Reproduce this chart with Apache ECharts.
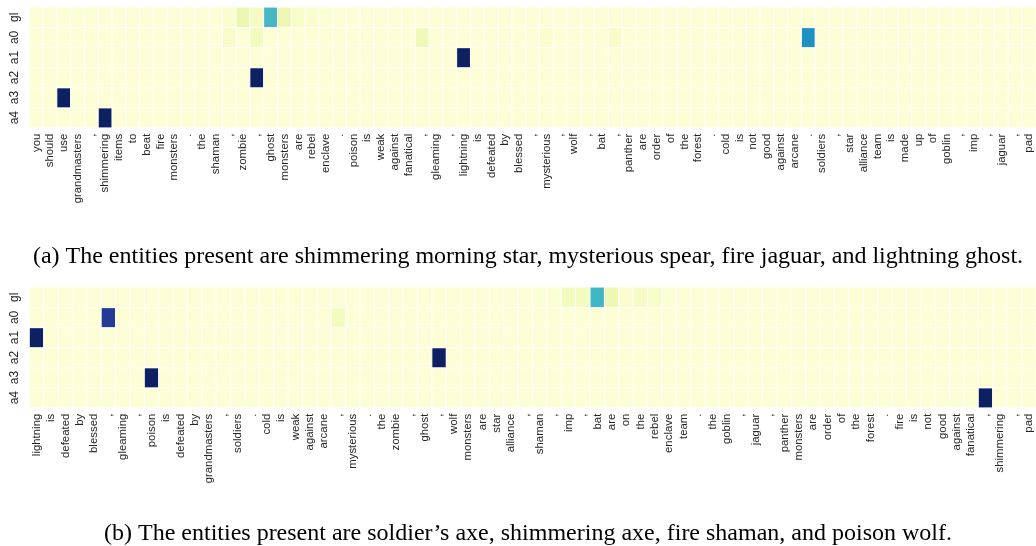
<!DOCTYPE html>
<html>
<head>
<meta charset="utf-8">
<script src="https://cdn.jsdelivr.net/npm/echarts@6/dist/echarts.min.js"></script>
<style>
html,body{margin:0;padding:0;background:#fff;}
#chart{width:1036px;height:546px;}
</style>
</head>
<body>
<div id="chart"></div>
<script>
// Row labels (bottom to top)
const rowLabels = ["a4", "a3", "a2", "a1", "a0", "gl"];

// ---- Panel (a) ----
const tokensA = ["you","should","use","grandmasters",",","shimmering","items","to","beat","fire",
"monsters",".","the","shaman",",","zombie",",","ghost","monsters","are",
"rebel","enclave",".","poison","is","weak","against","fanatical",",","gleaming",
",","lightning","is","defeated","by","blessed",",","mysterious",",","wolf",
",","bat",",","panther","are","order","of","the","forest",".",
"cold","is","not","good","against","arcane",".","soldiers",",","star",
"alliance","team","is","made","up","of","goblin",",","imp",",",
"jaguar",",","pad"];

const glA = [
0.01,0.01,0.01,0.02,0.02,0.01,0.01,0.01,0.01,0.01,
0.01,0.01,0.01,0.01,0.03,0.13,0.07,0.49,0.12,0.05,
0.03,0.02,0.01,0.01,0.01,0.01,0.01,0.01,0.01,0.01,
0.01,0.01,0.01,0.01,0.01,0.01,0.01,0.01,0.01,0.01,
0.01,0.01,0.01,0.01,0.01,0.01,0.01,0.01,0.01,0.01,
0.01,0.01,0.01,0.01,0.01,0.01,0.01,0.01,0.01,0.01,
0.01,0.01,0.01,0.01,0.01,0.01,0.01,0.01,0.01,0.01,
0.01,0.01,0.01];
const a0A = [
0.01,0.01,0.01,0.01,0.02,0.01,0.01,0.01,0.01,0.01,
0.01,0.01,0.01,0.01,0.05,0.01,0.09,0.01,0.01,0.01,
0.01,0.01,0.01,0.01,0.01,0.01,0.01,0.01,0.10,0.01,
0.01,0.01,0.01,0.01,0.01,0.01,0.01,0.03,0.01,0.01,
0.01,0.01,0.05,0.01,0.01,0.01,0.01,0.01,0.01,0.01,
0.01,0.01,0.01,0.01,0.01,0.01,0.62,0.01,0.01,0.01,
0.01,0.01,0.01,0.01,0.01,0.01,0.01,0.01,0.01,0.01,
0.01,0.01,0.01];
const a1A = [
0.01,0.01,0.01,0.01,0.01,0.01,0.01,0.01,0.01,0.01,
0.01,0.01,0.01,0.01,0.01,0.01,0.01,0.01,0.01,0.01,
0.01,0.01,0.01,0.01,0.01,0.01,0.01,0.01,0.01,0.01,
0.01,0.98,0.01,0.01,0.01,0.01,0.01,0.01,0.01,0.01,
0.01,0.01,0.01,0.01,0.01,0.01,0.01,0.01,0.01,0.01,
0.01,0.01,0.01,0.01,0.01,0.01,0.01,0.01,0.01,0.01,
0.01,0.01,0.01,0.01,0.01,0.01,0.01,0.01,0.01,0.01,
0.01,0.01,0.01];
const a2A = [
0.01,0.01,0.01,0.01,0.01,0.01,0.01,0.01,0.01,0.01,
0.01,0.01,0.01,0.01,0.01,0.01,0.98,0.01,0.01,0.01,
0.01,0.01,0.01,0.01,0.01,0.01,0.01,0.01,0.01,0.01,
0.01,0.01,0.01,0.01,0.01,0.01,0.01,0.01,0.01,0.01,
0.01,0.01,0.01,0.01,0.01,0.01,0.01,0.01,0.01,0.01,
0.01,0.01,0.01,0.01,0.01,0.01,0.01,0.01,0.01,0.01,
0.01,0.01,0.01,0.01,0.01,0.01,0.01,0.01,0.01,0.01,
0.01,0.01,0.01];
const a3A = [
0.01,0.01,0.98,0.01,0.01,0.01,0.01,0.01,0.01,0.01,
0.01,0.01,0.01,0.01,0.01,0.01,0.01,0.01,0.01,0.01,
0.01,0.01,0.01,0.01,0.01,0.01,0.01,0.01,0.01,0.01,
0.01,0.01,0.01,0.01,0.01,0.01,0.01,0.01,0.01,0.01,
0.01,0.01,0.01,0.01,0.01,0.01,0.01,0.01,0.01,0.01,
0.01,0.01,0.01,0.01,0.01,0.01,0.01,0.01,0.01,0.01,
0.01,0.01,0.01,0.01,0.01,0.01,0.01,0.01,0.01,0.01,
0.01,0.01,0.01];
const a4A = [
0.01,0.01,0.01,0.01,0.01,0.98,0.01,0.01,0.01,0.01,
0.01,0.01,0.01,0.01,0.01,0.01,0.01,0.01,0.01,0.01,
0.01,0.01,0.01,0.01,0.01,0.01,0.01,0.01,0.01,0.01,
0.01,0.01,0.01,0.01,0.01,0.01,0.01,0.01,0.01,0.01,
0.01,0.01,0.01,0.01,0.01,0.01,0.01,0.01,0.01,0.01,
0.01,0.01,0.01,0.01,0.01,0.01,0.01,0.01,0.01,0.01,
0.01,0.01,0.01,0.01,0.01,0.01,0.01,0.01,0.01,0.01,
0.01,0.01,0.01];

// ---- Panel (b) ----
const tokensB = ["lightning","is","defeated","by","blessed",",","gleaming",",","poison","is",
"defeated","by","grandmasters",",","soldiers",".","cold","is","weak","against",
"arcane",",","mysterious",".","the","zombie",",","ghost",",","wolf",
"monsters","are","star","alliance",",","shaman",",","imp",",","bat",
"are","on","the","rebel","enclave","team",".","the","goblin",",",
"jaguar",",","panther","monsters","are","order","of","the","forest",".",
"fire","is","not","good","against","fanatical",",","shimmering",",","pad"];

const glB = [
0.01,0.01,0.01,0.01,0.01,0.01,0.01,0.01,0.01,0.01,
0.01,0.01,0.01,0.01,0.01,0.01,0.01,0.01,0.01,0.01,
0.01,0.01,0.01,0.01,0.01,0.01,0.01,0.01,0.01,0.01,
0.01,0.01,0.01,0.01,0.01,0.02,0.02,0.08,0.08,0.50,
0.12,0.03,0.07,0.05,0.02,0.01,0.01,0.01,0.01,0.01,
0.01,0.01,0.01,0.01,0.01,0.01,0.01,0.01,0.01,0.01,
0.01,0.01,0.01,0.01,0.01,0.01,0.01,0.01,0.01,0.01];
const a0B = [
0.01,0.01,0.01,0.01,0.01,0.86,0.01,0.01,0.01,0.01,
0.01,0.01,0.01,0.01,0.01,0.01,0.01,0.01,0.01,0.01,
0.01,0.08,0.01,0.01,0.01,0.01,0.01,0.01,0.01,0.01,
0.01,0.01,0.01,0.01,0.01,0.01,0.01,0.01,0.01,0.01,
0.01,0.01,0.01,0.01,0.01,0.01,0.01,0.01,0.01,0.01,
0.01,0.01,0.01,0.01,0.01,0.01,0.01,0.01,0.01,0.01,
0.01,0.01,0.01,0.01,0.01,0.01,0.01,0.01,0.01,0.01];
const a1B = [
0.98,0.01,0.01,0.01,0.01,0.01,0.01,0.01,0.01,0.01,
0.01,0.01,0.01,0.01,0.01,0.01,0.01,0.01,0.01,0.01,
0.01,0.01,0.01,0.01,0.01,0.01,0.01,0.01,0.01,0.01,
0.01,0.01,0.01,0.01,0.01,0.01,0.01,0.01,0.01,0.01,
0.01,0.01,0.01,0.01,0.01,0.01,0.01,0.01,0.01,0.01,
0.01,0.01,0.01,0.01,0.01,0.01,0.01,0.01,0.01,0.01,
0.01,0.01,0.01,0.01,0.01,0.01,0.01,0.01,0.01,0.01];
const a2B = [
0.01,0.01,0.01,0.01,0.01,0.01,0.01,0.01,0.01,0.01,
0.01,0.01,0.01,0.01,0.01,0.01,0.01,0.01,0.01,0.01,
0.01,0.01,0.01,0.01,0.01,0.01,0.01,0.01,0.98,0.01,
0.01,0.01,0.01,0.01,0.01,0.01,0.01,0.01,0.01,0.01,
0.01,0.01,0.01,0.01,0.01,0.01,0.01,0.01,0.01,0.01,
0.01,0.01,0.01,0.01,0.01,0.01,0.01,0.01,0.01,0.01,
0.01,0.01,0.01,0.01,0.01,0.01,0.01,0.01,0.01,0.01];
const a3B = [
0.01,0.01,0.01,0.01,0.01,0.01,0.01,0.01,0.98,0.01,
0.01,0.01,0.01,0.01,0.01,0.01,0.01,0.01,0.01,0.01,
0.01,0.01,0.01,0.01,0.01,0.01,0.01,0.01,0.01,0.01,
0.01,0.01,0.01,0.01,0.01,0.01,0.01,0.01,0.01,0.01,
0.01,0.01,0.01,0.01,0.01,0.01,0.01,0.01,0.01,0.01,
0.01,0.01,0.01,0.01,0.01,0.01,0.01,0.01,0.01,0.01,
0.01,0.01,0.01,0.01,0.01,0.01,0.01,0.01,0.01,0.01];
const a4B = [
0.01,0.01,0.01,0.01,0.01,0.01,0.01,0.01,0.01,0.01,
0.01,0.01,0.01,0.01,0.01,0.01,0.01,0.01,0.01,0.01,
0.01,0.01,0.01,0.01,0.01,0.01,0.01,0.01,0.01,0.01,
0.01,0.01,0.01,0.01,0.01,0.01,0.01,0.01,0.01,0.01,
0.01,0.01,0.01,0.01,0.01,0.01,0.01,0.01,0.01,0.01,
0.01,0.01,0.01,0.01,0.01,0.01,0.01,0.01,0.01,0.01,
0.01,0.01,0.01,0.01,0.01,0.01,0.98,0.01,0.01,0.01];

const captionA = "(a) The entities present are shimmering morning star, mysterious spear, fire jaguar, and lightning ghost.";
const captionB = "(b) The entities present are soldier\u2019s axe, shimmering axe, fire shaman, and poison wolf.";

const YlGnBu = ['#ffffd9','#edf8b1','#c7e9b4','#7fcdbb','#41b6c4','#1d91c0','#225ea8','#253494','#081d58'];

function toCells(rows) {
  const out = [];
  rows.forEach((row, yi) => row.forEach((v, xi) => out.push([xi, yi, v])));
  return out;
}
const cellsA = toCells([a4A, a3A, a2A, a1A, a0A, glA]);
const cellsB = toCells([a4B, a3B, a2B, a1B, a0B, glB]);

const labelFont = 'Liberation Sans, Arial, sans-serif';
function xAxisFor(idx, tokens) {
  return {
    type: 'category', gridIndex: idx, data: tokens,
    axisLine: {show: false}, axisTick: {show: false}, splitLine: {show: false},
    axisLabel: {interval: 0, rotate: 90, fontSize: 11.4, color: '#262626', fontFamily: labelFont, margin: 6}
  };
}
function yAxisFor(idx) {
  return {
    type: 'category', gridIndex: idx, data: rowLabels,
    axisLine: {show: false}, axisTick: {show: false}, splitLine: {show: false},
    axisLabel: {interval: 0, rotate: 90, fontSize: 12, color: '#262626', fontFamily: labelFont, margin: 9}
  };
}

const chart = echarts.init(document.getElementById('chart'), null, {renderer: 'canvas'});
chart.setOption({
  animation: false,
  backgroundColor: '#ffffff',
  grid: [
    {left: 29.5, top: 7.3, width: 1011, height: 120.4},
    {left: 29.5, top: 287.3, width: 1011.5, height: 120.4}
  ],
  xAxis: [xAxisFor(0, tokensA), xAxisFor(1, tokensB)],
  yAxis: [yAxisFor(0), yAxisFor(1)],
  visualMap: {
    type: 'continuous', min: 0, max: 1, show: false, seriesIndex: [0, 1],
    inRange: {color: YlGnBu}
  },
  series: [
    {type: 'heatmap', xAxisIndex: 0, yAxisIndex: 0, data: cellsA,
     itemStyle: {borderColor: '#ffffff', borderWidth: 1}, emphasis: {disabled: true}},
    {type: 'heatmap', xAxisIndex: 1, yAxisIndex: 1, data: cellsB,
     itemStyle: {borderColor: '#ffffff', borderWidth: 1}, emphasis: {disabled: true}}
  ],
  graphic: [
    {type: 'text', x: 528, y: 257, style: {text: captionA, textAlign: 'center', textVerticalAlign: 'middle',
      fontFamily: 'Liberation Serif, Times New Roman, serif', fontSize: 24, fill: '#000'}},
    {type: 'text', x: 528, y: 534, style: {text: captionB, textAlign: 'center', textVerticalAlign: 'middle',
      fontFamily: 'Liberation Serif, Times New Roman, serif', fontSize: 24, fill: '#000'}}
  ]
});
</script>
</body>
</html>
